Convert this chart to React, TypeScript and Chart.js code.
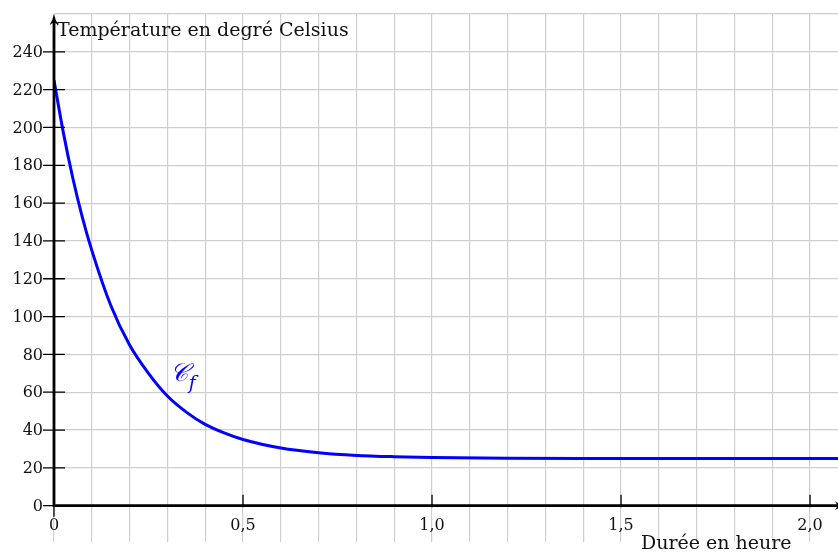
import React, { useEffect, useRef } from "react";
import { Chart, registerables } from "chart.js";

Chart.register(...registerables);

// Durée (heures) et température (°C)
const durations = [0, 0.025, 0.05, 0.075, 0.1, 0.15, 0.2, 0.25, 0.3, 0.35, 0.4, 0.45, 0.5, 0.6, 0.7, 0.8, 0.9, 1.0, 1.2, 1.4, 1.6, 1.8, 2.0, 2.1];
const temperatures = [225, 197, 173, 152.5, 135, 106, 85, 70, 58, 49.5, 43, 38.5, 35, 30.5, 28, 26.6, 25.9, 25.5, 25.1, 25, 25, 25, 25, 25];

const xGridValues = [0, 0.1, 0.2, 0.3, 0.4, 0.5, 0.6, 0.7, 0.8, 0.9, 1.0, 1.1, 1.2, 1.3, 1.4, 1.5, 1.6, 1.7, 1.8, 1.9, 2.0];
const yGridValues = [0, 20, 40, 60, 80, 100, 120, 140, 160, 180, 200, 220, 240, 260];
const xTickValues = [0, 0.5, 1.0, 1.5, 2.0];
const xTickLabels = ["0", "0,5", "1,0", "1,5", "2,0"];
const yTickValues = [0, 20, 40, 60, 80, 100, 120, 140, 160, 180, 200, 220, 240];
const yTickLabels = ["0", "20", "40", "60", "80", "100", "120", "140", "160", "180", "200", "220", "240"];

const yAxisTitle = "Température en degré Celsius";
const xAxisTitle = "Durée en heure";
const curveName = "𝒞";
const curveSub = "f";
const curveLabelAt = { x: 0.33, y: 70 };

const FONT = '"DejaVu Serif", "Liberation Serif", serif';

const axesPlugin = {
  id: "axesPlugin",
  afterDatasetsDraw(chart: any) {
    const ctx = chart.ctx;
    const xs = chart.scales.x;
    const ys = chart.scales.y;
    const x0 = xs.getPixelForValue(0);
    const y0 = ys.getPixelForValue(0);
    const top = chart.chartArea.top;
    ctx.save();
    ctx.strokeStyle = "#000";
    ctx.fillStyle = "#000";
    // axes
    ctx.lineWidth = 2.8;
    ctx.beginPath();
    ctx.moveTo(x0, y0 + 1.4);
    ctx.lineTo(x0, top + 6);
    ctx.moveTo(x0 - 1.4, y0);
    ctx.lineTo(chart.width + 2, y0);
    ctx.stroke();
    // arrow heads
    const arrow = (tx: number, ty: number, dx: number, dy: number) => {
      const len = 11, half = 4.4;
      const px = -dy, py = dx;
      const bx = tx - dx * len, by = ty - dy * len;
      ctx.beginPath();
      ctx.moveTo(tx, ty);
      ctx.quadraticCurveTo(tx - dx * len * 0.55 + px * 1.2, ty - dy * len * 0.55 + py * 1.2, bx + px * half, by + py * half);
      ctx.lineTo(tx - dx * len * 0.75, ty - dy * len * 0.75);
      ctx.lineTo(bx - px * half, by - py * half);
      ctx.quadraticCurveTo(tx - dx * len * 0.55 - px * 1.2, ty - dy * len * 0.55 - py * 1.2, tx, ty);
      ctx.closePath();
      ctx.fill();
    };
    arrow(x0, top, 0, -1);
    arrow(chart.width + 8, y0, 1, 0);
    // ticks
    ctx.lineWidth = 1.3;
    ctx.beginPath();
    yTickValues.forEach((v) => {
      const py = ys.getPixelForValue(v);
      ctx.moveTo(x0 - 11, py);
      ctx.lineTo(x0 + 11, py);
    });
    xTickValues.forEach((v) => {
      const px = xs.getPixelForValue(v);
      if (v === 0) {
        ctx.moveTo(px, y0);
        ctx.lineTo(px, y0 + 11);
      } else {
        ctx.moveTo(px, y0 - 11);
        ctx.lineTo(px, y0 + 1.5);
      }
    });
    ctx.stroke();
    // tick labels
    ctx.font = `16px ${FONT}`;
    ctx.fillStyle = "#111";
    ctx.textAlign = "right";
    ctx.textBaseline = "middle";
    yTickValues.forEach((v, i) => {
      ctx.fillText(yTickLabels[i], x0 - 11, ys.getPixelForValue(v) + 1);
    });
    ctx.textAlign = "center";
    ctx.textBaseline = "alphabetic";
    xTickValues.forEach((v, i) => {
      ctx.fillText(xTickLabels[i], xs.getPixelForValue(v), y0 + 24);
    });
    // axis titles
    ctx.font = `19px ${FONT}`;
    ctx.textAlign = "left";
    ctx.fillText(yAxisTitle, x0 + 3, top + 22);
    ctx.fillText(xAxisTitle, xs.getPixelForValue(1.55) + 1, y0 + 43);
    // curve label
    ctx.fillStyle = "#0000ff";
    const lx = xs.getPixelForValue(curveLabelAt.x);
    const ly = ys.getPixelForValue(curveLabelAt.y);
    ctx.font = `italic 25px ${FONT}`;
    ctx.textAlign = "center";
    ctx.fillText(curveName, lx, ly + 8);
    ctx.font = `italic 19px ${FONT}`;
    ctx.textAlign = "left";
    ctx.fillText(curveSub, lx + 10, ly + 16);
    ctx.restore();
  },
};

export default function App() {
  const ref = useRef<HTMLCanvasElement | null>(null);
  useEffect(() => {
    document.body.style.margin = "0";
    if (!ref.current) return;
    const chart = new Chart(ref.current, {
      type: "scatter",
      data: {
        datasets: [
          {
            data: durations.map((d, i) => ({ x: d, y: temperatures[i] })),
            showLine: true,
            borderColor: "#0000ff",
            borderWidth: 3,
            pointRadius: 0,
            cubicInterpolationMode: "monotone",
          },
        ],
      },
      options: {
        responsive: false,
        animation: false,
        devicePixelRatio: 1,
        layout: { padding: { left: 54, top: 14, right: 0, bottom: 10 } },
        plugins: { legend: { display: false }, tooltip: { enabled: false } },
        scales: {
          x: {
            type: "linear",
            min: 0,
            max: 2.074,
            afterBuildTicks: (s: any) => {
              s.ticks = xGridValues.map((v) => ({ value: v }));
            },
            ticks: { display: false },
            border: { display: false },
            grid: { color: "#cfcfcf", lineWidth: 1.2, drawTicks: false },
          },
          y: {
            type: "linear",
            min: -19.2,
            max: 260,
            afterBuildTicks: (s: any) => {
              s.ticks = yGridValues.map((v) => ({ value: v }));
            },
            ticks: { display: false },
            border: { display: false },
            grid: { color: "#cfcfcf", lineWidth: 1.2, drawTicks: false },
          },
        },
      },
      plugins: [axesPlugin],
    } as any);
    return () => chart.destroy();
  }, []);
  return (
    <div style={{ width: 838, height: 552 }}>
      <canvas ref={ref} width={838} height={552} style={{ display: "block" }} />
    </div>
  );
}
